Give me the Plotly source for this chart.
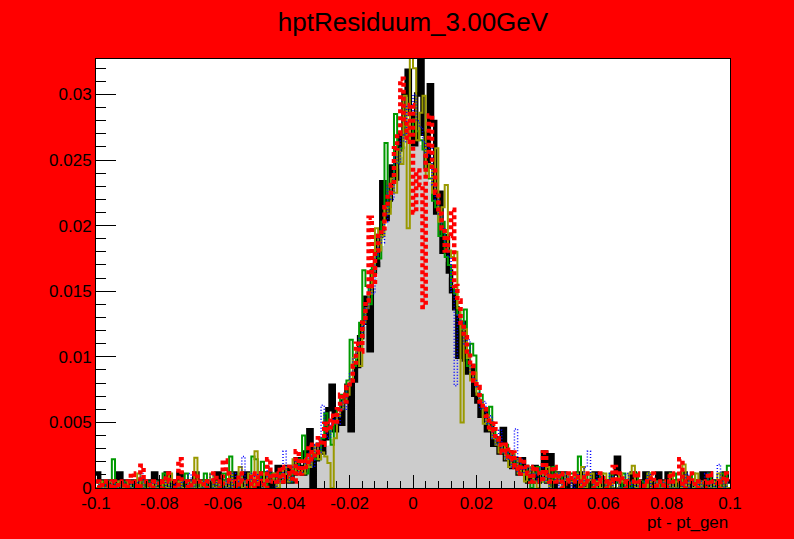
import numpy as np
import plotly.graph_objects as go

# Binning: 200 bins of width 0.001 on [-0.1, 0.1]
x_lo, x_hi, n_bins = -0.1, 0.1, 200

# Bin contents, in units of 1e-4
gray = [
    0, 0, 0, 0, 0, 0, 0, 0, 0, 0,
    0, 0, 0, 0, 0, 0, 0, 0, 0, 0,
    0, 0, 0, 0, 0, 0, 0, 0, 1, 0,
    0, 0, 0, 1, 0, 0, 0, 1, 0, 1,
    1, 1, 2, 1, 1, 2, 2, 1, 2, 2,
    3, 2, 3, 3, 4, 3, 4, 5, 5, 6,
    6, 7, 8, 9, 10, 11, 13, 14, 16, 18,
    21, 24, 28, 32, 37, 42, 47, 53, 59, 66,
    74, 82, 91, 101, 112, 123, 135, 147, 160, 172,
    184, 197, 209, 221, 232, 243, 252, 260, 266, 270,
    269, 267, 261, 253, 244, 233, 222, 210, 197, 184,
    172, 160, 147, 135, 123, 112, 100, 90, 81, 73,
    66, 59, 53, 47, 42, 37, 33, 29, 26, 23,
    21, 19, 17, 15, 14, 12, 11, 10, 9, 8,
    7, 6, 6, 5, 5, 4, 4, 3, 3, 3,
    2, 2, 2, 1, 2, 1, 1, 1, 0, 1,
    0, 0, 1, 0, 0, 0, 0, 0, 0, 0,
    0, 0, 0, 0, 0, 0, 0, 0, 0, 0,
    0, 0, 0, 0, 0, 0, 0, 0, 0, 0,
    0, 0, 0, 0, 0, 0, 0, 0, 0, 0,
]

black = [
    11, 5, 0, 5, 0, 5, 0, 11, 5, 0,
    5, 0, 5, 0, 5, 0, 5, 5, 11, 0,
    5, 0, 11, 5, 0, 5, 11, 0, 5, 0,
    5, 11, 0, 5, 0, 5, 5, 0, 11, 5,
    0, 5, 0, 11, 5, 0, 5, 11, 0, 5,
    5, 0, 11, 5, 11, 0, 5, 16, 5, 11,
    16, 5, 11, 22, 16, 11, 27, 44, 0, 22,
    33, 27, 38, 60, 78, 44, 55, 49, 66, 78,
    44, 82, 93, 115, 126, 145, 105, 165, 170, 192,
    233, 205, 220, 245, 236, 258, 270, 300, 318, 285,
    262, 300, 340, 270, 245, 307, 279, 210, 225, 180,
    192, 165, 150, 137, 100, 126, 98, 88, 93, 71,
    66, 55, 60, 44, 49, 33, 38, 27, 45, 22,
    27, 16, 22, 11, 22, 16, 5, 11, 16, 5,
    11, 27, 5, 25, 0, 11, 5, 11, 0, 5,
    5, 0, 11, 5, 0, 5, 0, 11, 5, 0,
    5, 0, 5, 11, 23, 5, 0, 5, 0, 11,
    0, 5, 0, 11, 5, 0, 5, 11, 5, 0,
    11, 5, 0, 5, 0, 11, 5, 0, 5, 0,
    5, 11, 0, 11, 5, 0, 5, 0, 11, 5,
]

green = [
    5, 0, 5, 0, 0, 22, 0, 5, 0, 5,
    0, 5, 0, 0, 5, 0, 5, 0, 0, 5,
    0, 11, 0, 5, 0, 0, 5, 0, 11, 0,
    5, 0, 5, 0, 11, 0, 5, 0, 0, 5,
    11, 0, 24, 5, 0, 11, 5, 0, 5, 24,
    22, 5, 20, 0, 5, 11, 5, 0, 11, 5,
    11, 5, 16, 11, 22, 40, 11, 16, 27, 22,
    22, 38, 57, 44, 33, 49, 60, 71, 66, 82,
    113, 93, 99, 126, 166, 154, 140, 170, 181, 175,
    203, 263, 214, 230, 285, 248, 259, 276, 268, 270,
    281, 272, 265, 258, 242, 236, 219, 214, 192, 203,
    176, 170, 154, 148, 132, 121, 136, 93, 110, 101,
    77, 71, 55, 49, 62, 44, 38, 33, 27, 33,
    22, 27, 16, 22, 11, 16, 5, 0, 11, 16,
    5, 11, 5, 0, 16, 5, 11, 0, 5, 11,
    11, 5, 24, 0, 5, 11, 0, 5, 0, 11,
    0, 5, 11, 0, 5, 0, 11, 5, 0, 5,
    11, 0, 5, 0, 11, 5, 0, 5, 0, 0,
    5, 0, 11, 0, 5, 0, 0, 5, 11, 0,
    5, 0, 0, 11, 0, 5, 0, 11, 0, 17,
]

olive = [
    0, 5, 0, 0, 5, 0, 0, 5, 0, 0,
    5, 0, 0, 11, 0, 5, 0, 0, 5, 0,
    0, 5, 0, 11, 0, 0, 5, 0, 0, 5,
    0, 23, 0, 5, 0, 0, 11, 0, 5, 0,
    5, 0, 11, 0, 5, 16, 0, 5, 11, 0,
    28, 5, 0, 11, 5, 5, 11, 0, 5, 16,
    5, 11, 22, 11, 16, 11, 22, 16, 27, 33,
    22, 27, 24, 19, 0, 38, 55, 60, 66, 71,
    82, 99, 104, 93, 126, 137, 148, 165, 198, 181,
    192, 214, 209, 236, 225, 258, 247, 299, 198, 340,
    320, 265, 286, 299, 237, 247, 225, 259, 203, 214,
    231, 181, 176, 180, 137, 50, 121, 99, 82, 88,
    71, 66, 49, 55, 44, 38, 33, 27, 33, 22,
    16, 27, 22, 11, 16, 5, 11, 16, 5, 0,
    11, 5, 16, 0, 5, 11, 5, 0, 11, 5,
    5, 11, 0, 16, 0, 5, 11, 0, 5, 0,
    11, 0, 5, 0, 0, 11, 5, 0, 11, 17,
    0, 5, 0, 0, 11, 0, 5, 0, 0, 5,
    0, 11, 0, 5, 0, 18, 0, 5, 0, 11,
    0, 5, 0, 0, 5, 0, 11, 0, 5, 0,
]

blue = [
    5, 0, 0, 5, 0, 5, 0, 0, 5, 0,
    0, 5, 0, 5, 11, 0, 0, 5, 0, 5,
    0, 0, 5, 0, 5, 0, 0, 5, 0, 11,
    0, 5, 0, 0, 5, 0, 11, 0, 5, 0,
    0, 5, 0, 11, 0, 5, 24, 0, 5, 11,
    5, 11, 0, 5, 16, 5, 0, 11, 5, 28,
    11, 5, 16, 22, 11, 16, 22, 27, 16, 33,
    27, 63, 44, 38, 49, 55, 49, 66, 60, 77,
    88, 99, 104, 115, 124, 137, 154, 148, 176, 192,
    187, 203, 231, 220, 253, 247, 269, 264, 292, 286,
    300, 280, 275, 264, 253, 259, 231, 220, 209, 198,
    187, 176, 150, 78, 132, 126, 110, 113, 88, 82,
    77, 60, 66, 49, 55, 38, 33, 44, 27, 22,
    27, 16, 45, 11, 22, 11, 16, 5, 11, 5,
    16, 5, 11, 0, 5, 11, 0, 5, 11, 5,
    0, 11, 5, 0, 16, 28, 5, 0, 11, 5,
    0, 5, 11, 0, 5, 0, 0, 11, 5, 0,
    5, 0, 0, 5, 11, 0, 5, 0, 0, 5,
    0, 5, 0, 0, 5, 0, 11, 0, 5, 0,
    5, 0, 11, 0, 5, 0, 18, 5, 0, 5,
]

red = [
    5, 0, 5, 5, 0, 5, 0, 5, 5, 0,
    5, 11, 5, 0, 17, 5, 5, 0, 5, 5,
    0, 5, 11, 5, 5, 0, 22, 5, 5, 0,
    5, 11, 5, 5, 0, 5, 5, 11, 5, 0,
    21, 11, 5, 5, 0, 11, 5, 5, 0, 11,
    0, 11, 5, 0, 22, 5, 11, 5, 16, 5,
    11, 16, 5, 28, 11, 22, 16, 33, 22, 27,
    38, 33, 49, 44, 55, 49, 60, 71, 66, 77,
    82, 93, 110, 104, 126, 143, 206, 154, 181, 192,
    198, 214, 225, 231, 259, 270, 312, 281, 264, 292,
    210, 242, 231, 138, 253, 284, 242, 225, 209, 198,
    181, 192, 212, 154, 143, 126, 115, 104, 93, 82,
    77, 66, 60, 55, 44, 49, 38, 33, 27, 33,
    22, 27, 16, 11, 22, 16, 11, 5, 16, 11,
    5, 27, 11, 5, 16, 5, 11, 0, 5, 11,
    5, 11, 5, 0, 11, 5, 5, 0, 5, 11,
    5, 0, 5, 16, 5, 11, 5, 0, 5, 5,
    11, 5, 0, 5, 5, 11, 0, 5, 5, 0,
    5, 11, 5, 5, 22, 0, 5, 11, 5, 0,
    5, 5, 0, 11, 5, 5, 0, 5, 11, 5,
]

x_ticks = [-0.1, -0.08, -0.06, -0.04, -0.02, 0, 0.02, 0.04, 0.06, 0.08, 0.1]
x_tick_text = ["-0.1", "-0.08", "-0.06", "-0.04", "-0.02", "0",
               "0.02", "0.04", "0.06", "0.08", "0.1"]
y_ticks = [0, 0.005, 0.01, 0.015, 0.02, 0.025, 0.03]
y_tick_text = ["0", "0.005", "0.01", "0.015", "0.02", "0.025", "0.03"]

edges = np.linspace(x_lo, x_hi, n_bins + 1)


def step_y(vals):
    v = np.asarray(vals, dtype=float) * 1e-4
    return np.append(v, v[-1])


fig = go.Figure()

# reference distribution, filled
fig.add_trace(go.Scatter(
    x=edges, y=step_y(gray), mode="lines", line_shape="hv",
    line=dict(color="#c8c8c8", width=1), fill="tozeroy",
    fillcolor="#cccccc", hoverinfo="skip"))

styles = [
    (black, dict(color="#000000", width=4.5)),
    (green, dict(color="#009900", width=2)),
    (olive, dict(color="#999900", width=2)),
    (blue, dict(color="#0000ff", width=1.5, dash="1px,2px")),
    (red, dict(color="#ff0000", width=4.5, dash="4px,3px")),
]
for vals, line in styles:
    fig.add_trace(go.Scatter(
        x=edges, y=step_y(vals), mode="lines", line_shape="hv",
        line=line, hoverinfo="skip"))

axis_font = dict(family="Liberation Sans, Arial, sans-serif", size=17, color="black")

fig.update_layout(
    width=794, height=539,
    margin=dict(l=96, r=64, t=59, b=51),
    paper_bgcolor="#ff0000", plot_bgcolor="white",
    showlegend=False,
    title=dict(text="hptResiduum_3.00GeV", x=0.5, xref="paper",
               y=1 - 22 / 539, yref="container", yanchor="middle",
               xanchor="center",
               font=dict(family="Liberation Sans, Arial, sans-serif",
                         size=26, color="black")),
    xaxis=dict(range=[x_lo, x_hi], showgrid=False, zeroline=False,
               showline=True, linecolor="black", linewidth=1, mirror=True,
               ticks="inside", ticklen=13, tickcolor="black", tickwidth=1,
               tickmode="array", tickvals=x_ticks, ticktext=x_tick_text,
               minor=dict(ticks="inside", ticklen=7, tick0=-0.1, dtick=0.004,
                          tickcolor="black", showgrid=False),
               tickfont=axis_font),
    yaxis=dict(range=[0, 0.0327], showgrid=False, zeroline=False,
               showline=True, linecolor="black", linewidth=1, mirror=True,
               ticks="inside", ticklen=20, tickcolor="black", tickwidth=1,
               tickmode="array", tickvals=y_ticks, ticktext=y_tick_text,
               minor=dict(ticks="inside", ticklen=10, tick0=0, dtick=0.001,
                          tickcolor="black", showgrid=False),
               tickfont=axis_font),
    annotations=[dict(text="pt - pt_gen", x=1, xref="paper", xanchor="right",
                      y=-(522 - 488) / 429, yref="paper", yanchor="middle",
                      showarrow=False, font=axis_font)],
)

fig.write_html("out.html")
